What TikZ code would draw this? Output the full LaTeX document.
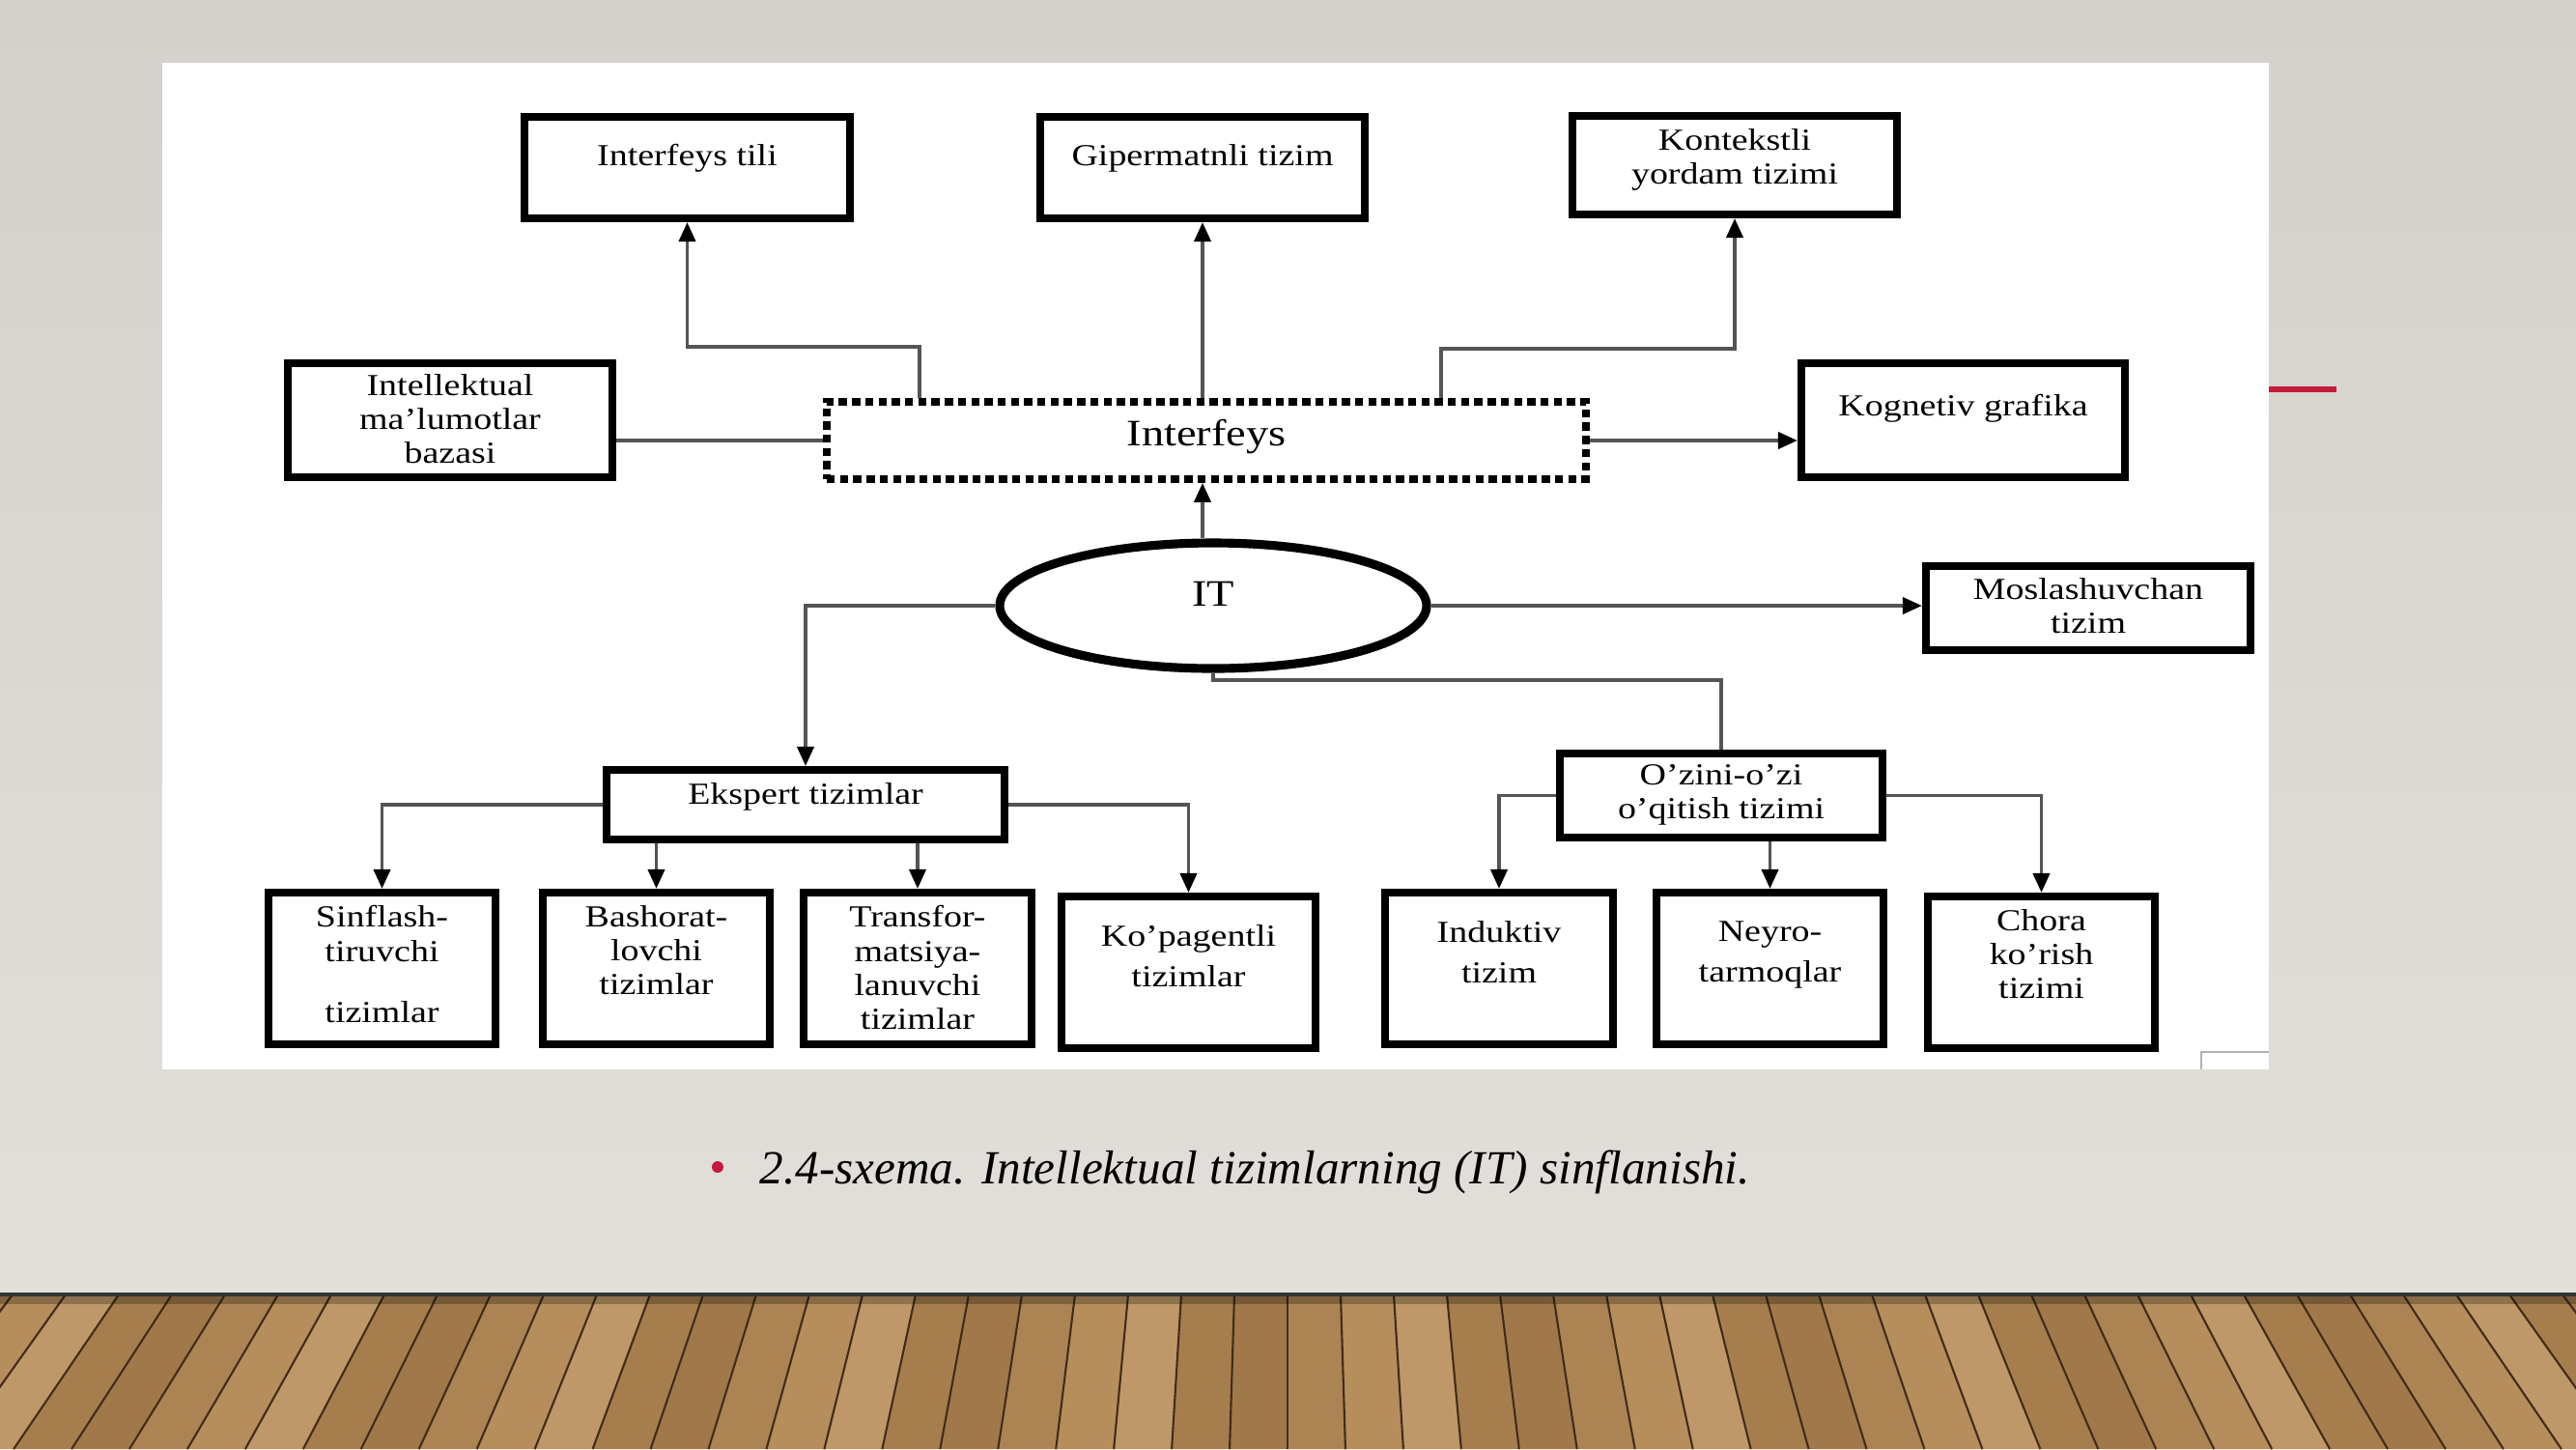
\documentclass[tikz,border=0pt]{standalone}
\usepackage{fontspec}
\setmainfont{Liberation Serif}[FakeStretch=1.2]
\newfontfamily\capfont{Liberation Serif}
\usetikzlibrary{arrows.meta,shapes.geometric}

\definecolor{walltop}{RGB}{212,209,204}
\definecolor{wallbot}{RGB}{226,223,218}
\definecolor{wood0}{RGB}{172,132,84}
\definecolor{wood1}{RGB}{190,152,104}
\definecolor{wood2}{RGB}{160,120,74}
\definecolor{wood3}{RGB}{182,142,92}
\definecolor{wood4}{RGB}{166,126,78}
\definecolor{seam}{RGB}{66,44,24}
\definecolor{accent}{RGB}{196,26,62}
\definecolor{linkgray}{RGB}{85,85,85}

\tikzset{
  box/.style={draw=black, line width=2.3pt, fill=white, inner sep=0pt},
  dotbox/.style={draw=black, line width=2.2pt, dash pattern=on 2.4pt off 1.5pt, fill=white, inner sep=0pt},
  lbl/.style={anchor=north, yshift=-#1, inner sep=0pt, align=center, font=\fontsize{9}{10}\selectfont},
  lbl/.default=0.17cm,
  bigfont/.style={font=\fontsize{11}{12}\selectfont},
  link/.style={draw=linkgray, line width=1.1pt},
  linkarr/.style={link, -{Triangle[length=2mm,width=1.7mm,color=black]}},
}

\begin{document}
\begin{tikzpicture}
	\useasboundingbox (0,0) rectangle (26.67,-15);
	% wall and floor
	\shade[top color=walltop, bottom color=wallbot] (0,0) rectangle (26.67,-13.40);
	\begin{scope}
		\clip (0,-13.40) rectangle (26.67,-15);
		\foreach \i [evaluate=\i as \k using {int(mod(\i*3+100,5))}] in {-26,...,25}
			\fill[color=wood\k] ({13.33+\i*0.55},-13.40) -- ({13.33+(\i+1)*0.55},-13.40) -- ({13.33+(\i+1)*0.55*1.09},-15) -- ({13.33+\i*0.55*1.09},-15) -- cycle;
		\foreach \i in {-26,...,26}
			\draw[seam, line width=0.6pt] ({13.33+\i*0.55},-13.40) -- ({13.33+\i*0.55*1.09},-15);
		\fill[black, opacity=0.25] (0,-13.40) rectangle (26.67,-13.50);
	\end{scope}
	\draw[black!80, line width=1.2pt] (0,-13.40) -- (26.67,-13.40);

	% white panel
	\fill[white] (1.68,-0.65) rectangle (23.49,-11.07);
	\draw[gray!60, line width=0.8pt] (22.79,-11.07) |- (23.49,-10.89);
	\draw[accent, line width=1.6pt] (23.49,-4.03) -- (24.19,-4.03);

	% top row
	\node[box, minimum width=3.37cm, minimum height=1.05cm, label={[lbl=0.32cm]north:Interfeys tili}] (tili) at (7.115,-1.735) {};
	\node[box, minimum width=3.36cm, minimum height=1.05cm, label={[lbl=0.32cm]north:Gipermatnli tizim}] (giper) at (12.45,-1.735) {};
	\node[box, minimum width=3.36cm, minimum height=1.02cm, label={[lbl=0.17cm]north:Kontekstli\\yordam tizimi}] (kontekst) at (17.96,-1.71) {};

	% interfeys row
	\node[box, minimum width=3.36cm, minimum height=1.18cm, label={[lbl=0.15cm]north:Intellektual\\ma’lumotlar\\bazasi}] (baza) at (4.66,-4.35) {};
	\node[dotbox, minimum width=7.86cm, minimum height=0.80cm, label={[lbl=0.21cm, bigfont]north:Interfeys}] (intf) at (12.49,-4.56) {};
	\node[box, minimum width=3.35cm, minimum height=1.18cm, label={[lbl=0.36cm]north:Kognetiv grafika}] (kognetiv) at (20.325,-4.35) {};

	% IT
	\node[ellipse, draw=black, line width=2.6pt, fill=white, minimum width=4.42cm, minimum height=1.30cm, label={[lbl=0.44cm, bigfont]north:IT}] (it) at (12.56,-6.27) {};
	\node[box, minimum width=3.36cm, minimum height=0.87cm, label={[lbl=0.16cm]north:Moslashuvchan\\tizim}] (moslash) at (21.62,-6.295) {};

	% second level
	\node[box, minimum width=4.12cm, minimum height=0.72cm, label={[lbl=0.17cm]north:Ekspert tizimlar}] (ekspert) at (8.34,-8.33) {};
	\node[box, minimum width=3.34cm, minimum height=0.87cm, label={[lbl=0.15cm]north:O’zini-o’zi\\o’qitish tizimi}] (ozini) at (17.82,-8.235) {};

	% bottom row
	\node[box, minimum width=2.35cm, minimum height=1.57cm, label={[lbl]north:Sinflash-\\tiruvchi\\[8pt]tizimlar}] (sinf) at (3.955,-10.025) {};
	\node[box, minimum width=2.35cm, minimum height=1.57cm, label={[lbl]north:Bashorat-\\lovchi\\tizimlar}] (bash) at (6.795,-10.025) {};
	\node[box, minimum width=2.36cm, minimum height=1.57cm, label={[lbl]north:Transfor-\\matsiya-\\lanuvchi\\tizimlar}] (trans) at (9.50,-10.025) {};
	\node[box, minimum width=2.63cm, minimum height=1.57cm, label={[lbl=0.33cm]north:Ko’pagentli\\[2pt]tizimlar}] (kop) at (12.305,-10.065) {};
	\node[box, minimum width=2.36cm, minimum height=1.57cm, label={[lbl=0.33cm]north:Induktiv\\[2pt]tizim}] (induk) at (15.52,-10.025) {};
	\node[box, minimum width=2.35cm, minimum height=1.57cm, label={[lbl=0.33cm]north:Neyro-\\[2pt]tarmoqlar}] (neyro) at (18.325,-10.025) {};
	\node[box, minimum width=2.35cm, minimum height=1.57cm, label={[lbl]north:Chora\\ko’rish\\tizimi}] (chora) at (21.135,-10.065) {};

	% connectors
	\draw[linkarr] ([xshift=-2.97cm]intf.north) -- ++(0,0.53) -| (tili.south);
	\draw[linkarr] (intf.north -| giper.south) -- (giper.south);
	\draw[linkarr] ([xshift=2.43cm]intf.north) -- ++(0,0.51) -| (kontekst.south);
	\draw[link] (intf.west -| baza.east) -- (intf.west);
	\draw[linkarr] (intf.east) -- (intf.east -| kognetiv.west);
	\draw[linkarr] (it.north -| giper.south) -- (intf.south -| giper.south);
	\draw[linkarr] (it.west) -| (ekspert.north);
	\draw[linkarr] (it.east) -- (it.east -| moslash.west);
	\draw[link] (it.south) -- ++(0,-0.07) -| (ozini.north);
	\draw[linkarr] (ekspert.west) -| (sinf.north);
	\draw[linkarr] (ekspert.south -| bash.north) -- (bash.north);
	\draw[linkarr] (ekspert.south -| trans.north) -- (trans.north);
	\draw[linkarr] (ekspert.east) -| (kop.north);
	\draw[linkarr] (ozini.west) -| (induk.north);
	\draw[linkarr] (ozini.south -| neyro.north) -- (neyro.north);
	\draw[linkarr] (ozini.east) -| (chora.north);

	% caption
	\fill[accent] (7.43,-12.08) circle (0.06);
	\node[anchor=base west, inner sep=0pt, font=\capfont\itshape\fontsize{14}{16}\selectfont] (caption) at (7.86,-12.25) {2.4-sxema. Intellektual tizimlarning (IT) sinflanishi.};
\end{tikzpicture}
\end{document}
